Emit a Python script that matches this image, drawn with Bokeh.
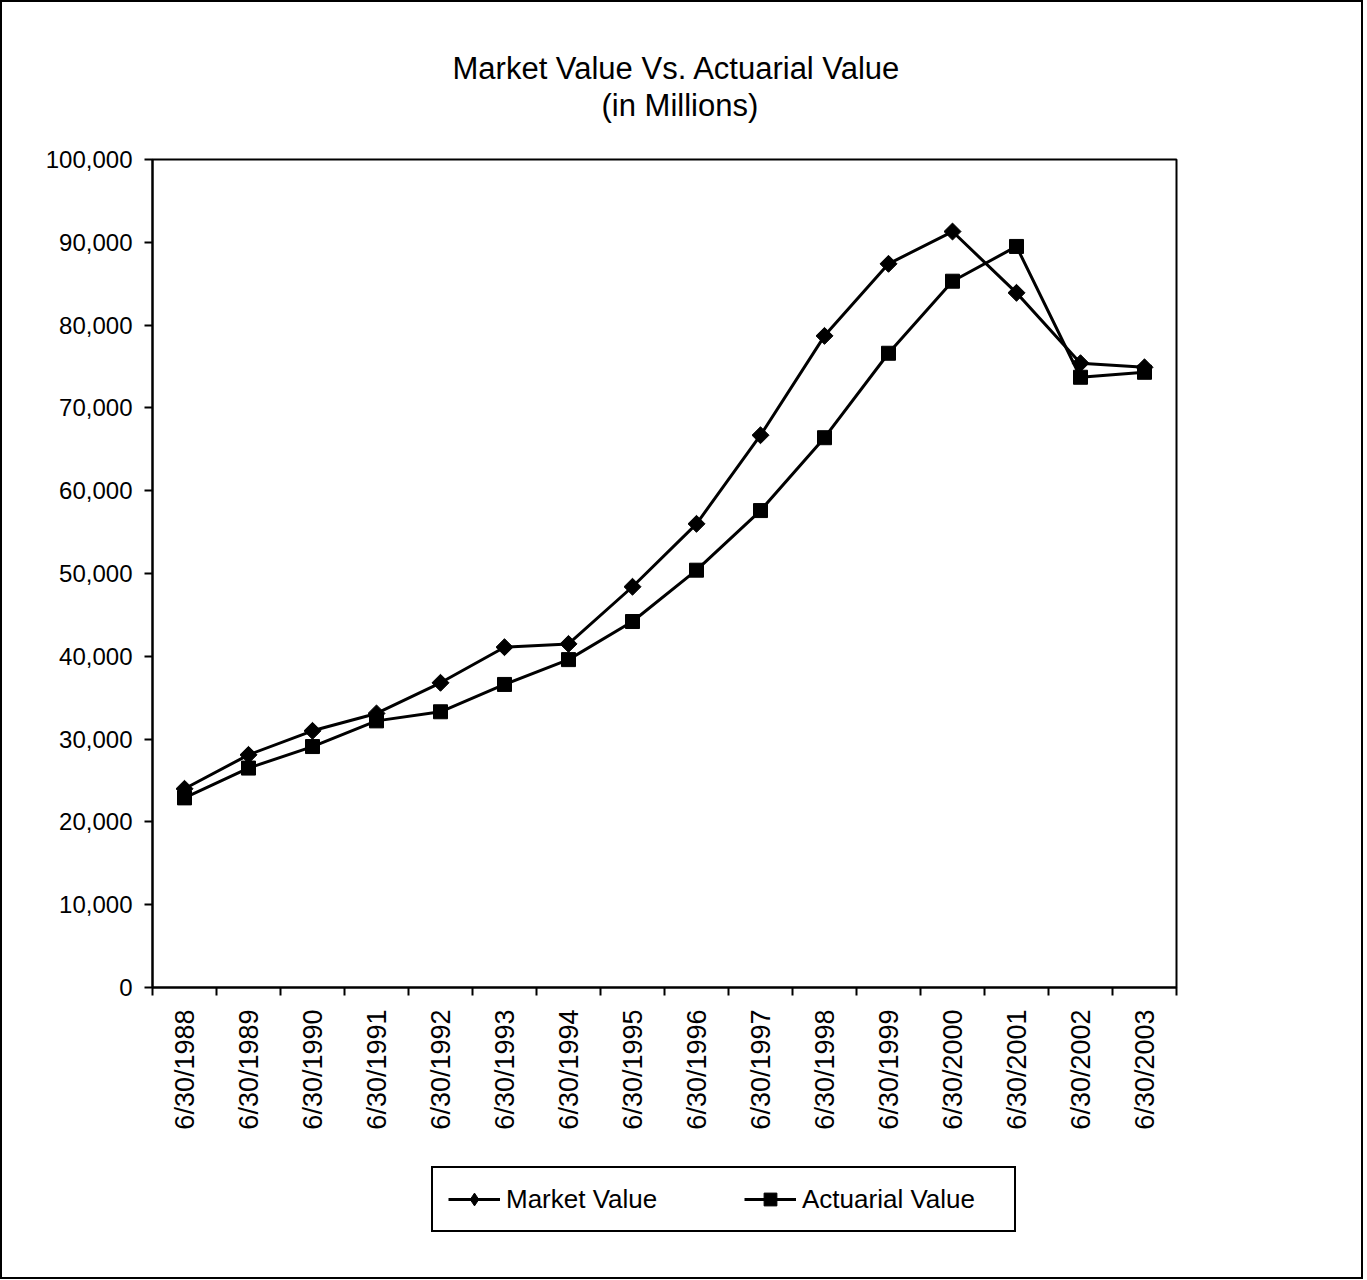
import math
from bokeh.plotting import figure
from bokeh.layouts import column
from bokeh.models import Range1d, FixedTicker, NumeralTickFormatter, Title, Legend, LegendItem
from bokeh.embed import file_html
from bokeh.resources import INLINE

dates = ["6/30/1988", "6/30/1989", "6/30/1990", "6/30/1991", "6/30/1992", "6/30/1993",
         "6/30/1994", "6/30/1995", "6/30/1996", "6/30/1997", "6/30/1998", "6/30/1999",
         "6/30/2000", "6/30/2001", "6/30/2002", "6/30/2003"]
market_value = [24000, 28100, 31000, 33100, 36800, 41100, 41500, 48400, 56000, 66700,
                78700, 87400, 91300, 83900, 75400, 74900]
actuarial_value = [22900, 26500, 29100, 32200, 33300, 36600, 39600, 44200, 50400, 57600,
                   66400, 76600, 85300, 89500, 73700, 74300]
y_ticks = list(range(0, 100001, 10000))

FONT = "Liberation Sans"
xpos = [i + 0.5 for i in range(len(dates))]

p = figure(width=1359, height=1140, output_backend="svg", toolbar_location=None,
           title="Market Value Vs. Actuarial Value",
           x_range=Range1d(0, len(dates)), y_range=Range1d(0, 100000),
           min_border_left=150, min_border_right=185, min_border_top=157, min_border_bottom=155)
p.title.align = "left"
p.title.offset = 300
p.title.text_font = FONT
p.title.text_font_size = "31px"
p.title.text_font_style = "normal"
p.title.text_color = "black"
p.title.standoff = -72
sub = Title(text="(in Millions)", align="left", offset=449,
            text_font=FONT, text_font_size="31px", text_font_style="normal", text_color="black")
sub.standoff = 73
p.add_layout(sub, "above")

p.background_fill_color = "white"
p.border_fill_color = "white"
p.outline_line_color = "black"
p.outline_line_width = 2
p.xgrid.grid_line_color = None
p.ygrid.grid_line_color = None

# x axis: labels centred on categories, tick marks between
xa = p.xaxis[0]
xa.ticker = FixedTicker(ticks=xpos, minor_ticks=list(range(len(dates) + 1)))
xa.major_label_overrides = {x: d for x, d in zip(xpos, dates)}
xa.major_label_orientation = math.pi / 2
xa.major_tick_in = 0
xa.major_tick_out = 0
xa.minor_tick_in = 0
xa.minor_tick_out = 8
xa.minor_tick_line_color = "black"
xa.minor_tick_line_width = 2
xa.axis_line_width = 2
xa.major_label_text_font = FONT
xa.major_label_text_font_size = "27px"
xa.major_label_text_color = "black"
xa.major_label_standoff = 14

ya = p.yaxis[0]
ya.ticker = FixedTicker(ticks=y_ticks)
ya.formatter = NumeralTickFormatter(format="0,0")
ya.major_tick_in = 0
ya.major_tick_out = 8
ya.minor_tick_out = 0
ya.minor_tick_in = 0
ya.major_tick_line_width = 2
ya.axis_line_width = 2
ya.major_label_text_font = FONT
ya.major_label_text_font_size = "24px"
ya.major_label_text_color = "black"
ya.major_label_standoff = 12

p.line(xpos, market_value, line_color="black", line_width=3)
p.scatter(xpos, market_value, marker="square", angle=math.pi / 4, size=12,
          fill_color="black", line_color="black")
p.line(xpos, actuarial_value, line_color="black", line_width=3)
p.scatter(xpos, actuarial_value, marker="square", size=14, fill_color="black", line_color="black")

# legend strip below the chart (its series lie outside its own view range)
lg = figure(width=1359, height=135, output_backend="svg", toolbar_location=None,
            x_axis_type=None, y_axis_type=None,
            x_range=Range1d(-100, -99), y_range=Range1d(-100, -99),
            min_border=0, min_border_left=0, min_border_right=0, min_border_top=0, min_border_bottom=0)
lg.outline_line_color = None
lg.xgrid.grid_line_color = None
lg.ygrid.grid_line_color = None
lg.background_fill_color = "white"
lg.border_fill_color = "white"
ml = lg.line(xpos, market_value, line_color="black", line_width=3)
ms = lg.scatter(xpos, market_value, marker="diamond", size=16,
                fill_color="black", line_color="black")
al = lg.line(xpos, actuarial_value, line_color="black", line_width=3)
as_ = lg.scatter(xpos, actuarial_value, marker="square", size=14, fill_color="black", line_color="black")

legend = Legend(items=[LegendItem(label="Market Value", renderers=[ml, ms]),
                       LegendItem(label="Actuarial Value", renderers=[al, as_])],
                location=(279, 45), orientation="horizontal")
legend.border_line_color = "black"
legend.border_line_width = 2
legend.border_line_alpha = 1
legend.label_text_font = FONT
legend.label_text_font_size = "26px"
legend.label_text_color = "black"
legend.label_width = 197
legend.glyph_width = 52
legend.glyph_height = 32
legend.spacing = 41
legend.padding = 15
legend.margin = 0
legend.label_standoff = 6
legend.background_fill_alpha = 1
lg.add_layout(legend)

layout = column(p, lg, spacing=0)
layout.styles = {"border": "2px solid black", "background-color": "white"}

open("out.html", "w").write(file_html(layout, INLINE))
